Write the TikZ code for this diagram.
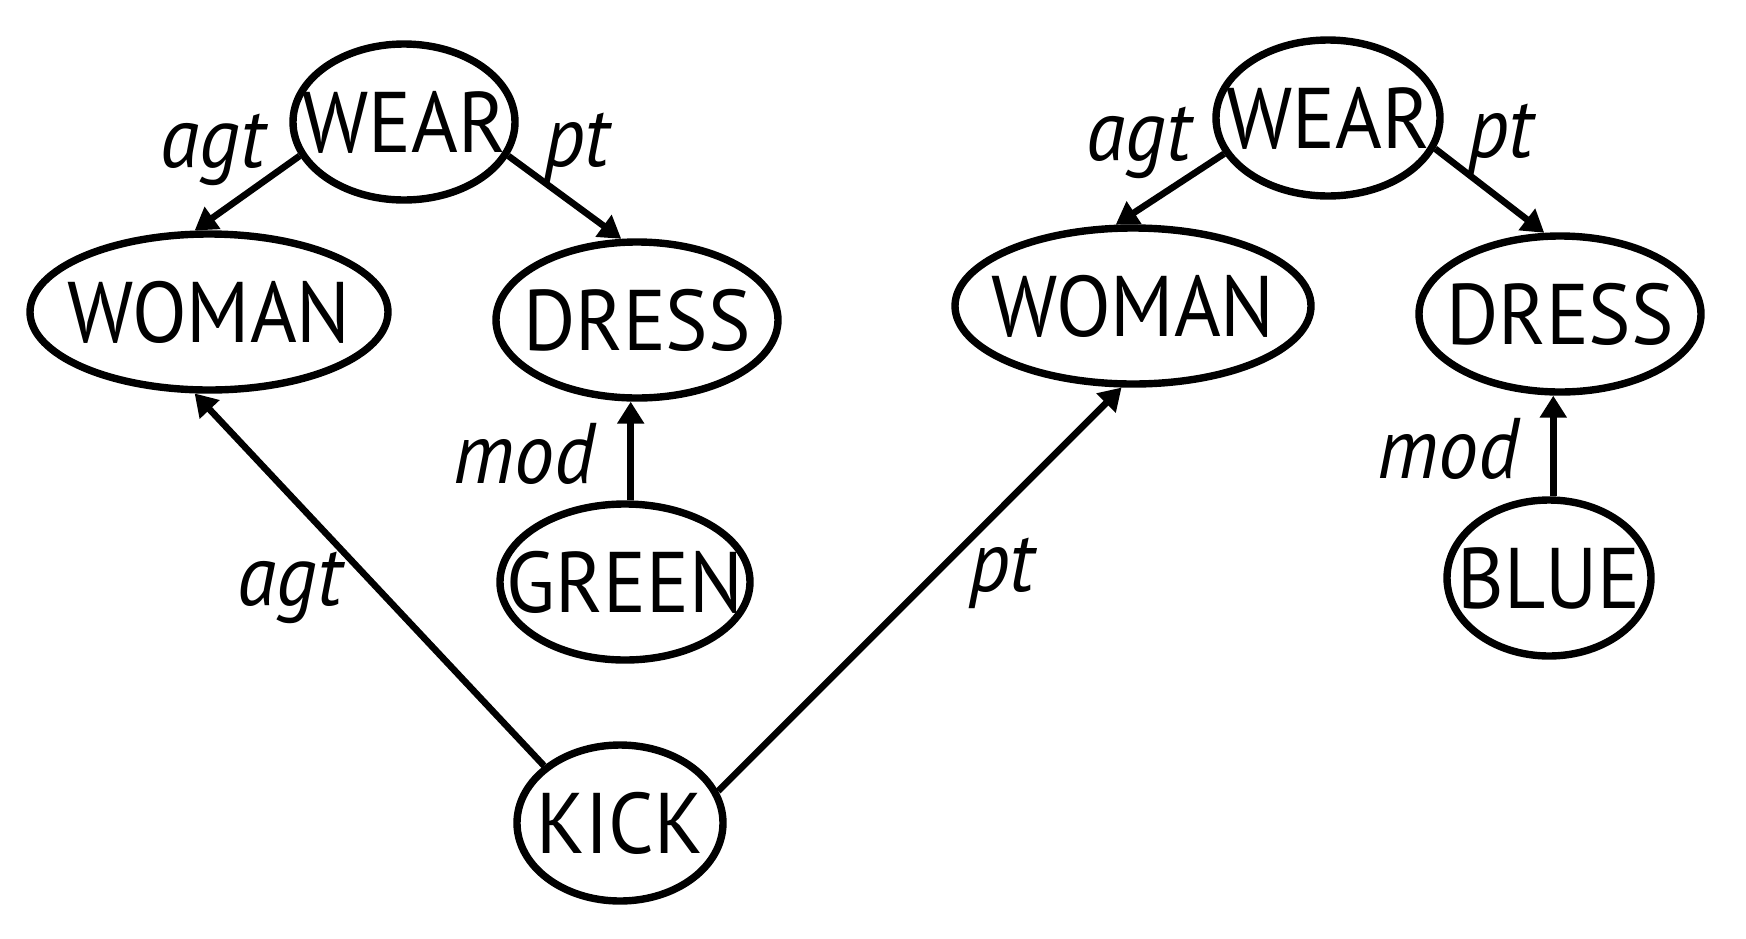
\documentclass[tikz,border=0pt]{standalone}
\usepackage{fontspec}
\setmainfont{PT Sans}[FakeStretch=0.93]
\usetikzlibrary{shapes.geometric,arrows.meta}
\newcommand\cname[1]{\makebox[0pt]{#1}}
\begin{document}
\begin{tikzpicture}[x=0.5pt,y=-0.5pt,font=\fontsize{43}{50}\selectfont,
  concept/.style={ellipse,draw,line width=3.7pt,inner sep=0pt,minimum height=78pt},
  rel/.style={-{Triangle[length=11pt,width=13pt]},line width=3.3pt},
  role/.style={font=\fontsize{43}{50}\selectfont\itshape}]
  \useasboundingbox (0,0) rectangle (1746,938);
  % left graph
  \node[concept,minimum width=111pt] (wearA) at (404,122) {\cname{WEAR}};
  \node[concept,minimum width=179pt] (womanA) at (209,312) {\cname{WOMAN}};
  \node[concept,minimum width=141pt] (dressA) at (637,320) {\cname{DRESS}};
  \node[concept,minimum width=125pt] (green) at (625,582) {\cname{GREEN}};
  \node[concept,minimum width=103pt] (kick) at (620,823) {\cname{KICK}};
  \draw[rel] (wearA.198) -- (womanA.100);
  \draw[rel] (wearA.342) -- (dressA.101);
  \draw[rel] (green.86) -- (green.86 |- dressA.south);
  \draw[rel] (kick.143) -- (womanA.260);
  \node[role] (agtA) at (213,150) {agt};
  \node[role] (ptA) at (577,148) {pt};
  \node[role] (modA) at (524,454) {mod};
  \node[role] (agtK) at (290,588) {agt};
  % right graph
  \node[concept,minimum width=112pt] (wearB) at (1328,118) {\cname{WEAR}};
  \node[concept,minimum width=178pt] (womanB) at (1133,306) {\cname{WOMAN}};
  \node[concept,minimum width=141pt] (dressB) at (1560,314) {\cname{DRESS}};
  \node[concept,minimum width=102pt] (blue) at (1549,578) {\cname{BLUE}};
  \draw[rel] (wearB.199) -- (womanB.102);
  \draw[rel] (wearB.344) -- (dressB.101);
  \draw[rel] (blue.87) -- (blue.87 |- dressB.south);
  \draw[rel] (kick.18) -- (womanB.262);
  \node[role] (ptK) at (1002,573) {pt};
  \node[role] (agtB) at (1139,143) {agt};
  \node[role] (ptB) at (1501,139) {pt};
  \node[role] (modB) at (1448,449) {mod};
\end{tikzpicture}
\end{document}
